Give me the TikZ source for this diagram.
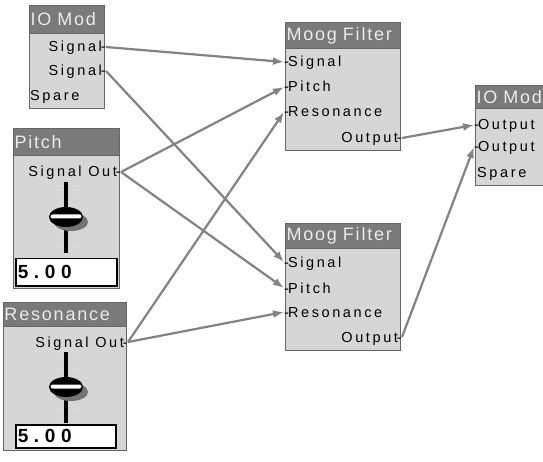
\documentclass[tikz,border=0pt]{standalone}
\usepackage{fontspec}
\setmainfont{Liberation Sans}
\newfontfamily\portfont[LetterSpace=18]{Liberation Sans}
\newfontfamily\titlefont[LetterSpace=10]{Liberation Sans}
\newfontfamily\valuefont[LetterSpace=30]{Liberation Sans}
\usetikzlibrary{arrows.meta}

\definecolor{barcol}{RGB}{122,122,122}
\definecolor{bodycol}{RGB}{214,214,214}
\definecolor{wirecol}{RGB}{130,130,130}

\begin{document}
\begin{tikzpicture}[x=1pt, y=-1pt, >={Latex[length=11pt,width=8pt]}]

% module body style
\tikzstyle{body} = [
    draw=black!60,
    fill=bodycol,
    line width=1pt,
    anchor=north west,
    inner sep=0pt
]

% title bar style
\tikzstyle{bar} = [
    draw=black!60,
    fill=barcol,
    text=black!8,
    line width=1pt,
    anchor=north west,
    inner xsep=1pt,
    inner ysep=0pt,
    align=left,
    font=\titlefont\fontsize{18}{18}\selectfont
]

% port styles
\tikzstyle{inport} = [
    anchor=west,
    inner sep=0pt,
    text height=10pt,
    text depth=0pt,
    font=\portfont\fontsize{14.5}{14}\selectfont
]
\tikzstyle{outport} = [
    inport,
    anchor=east
]

% value box style
\tikzstyle{valbox} = [
    draw=black,
    fill=white,
    line width=1.5pt,
    anchor=north west,
    inner xsep=2pt,
    inner ysep=0pt,
    align=left,
    font=\valuefont\bfseries\fontsize{19}{19}\selectfont
]

% connector style
\tikzstyle{wire} = [
    ->,
    draw=wirecol,
    line width=2.2pt
]

\useasboundingbox (0,0) rectangle (543,462);
\clip (0,0) rectangle (543,462);

% Place the nodes.
\node[body, minimum width=75pt, minimum height=103pt] (ioin) at (29,5) {};
\node[bar, minimum width=75pt, minimum height=28pt, text width=73pt] (ioin-bar) at (29,5) {IO Mod};
\node[outport] (ioin-s1) at (106,47) {Signal\kern-1pt-};
\node[outport] (ioin-s2) at (106,71) {Signal\kern-1pt-};
\node[inport] (ioin-sp) at (30,96) {Spare};

\node[body, minimum width=106pt, minimum height=160pt] (pitch) at (13,128) {};
\node[bar, minimum width=106pt, minimum height=27pt, text width=104pt] (pitch-bar) at (13,128) {Pitch};
\node[outport] (pitch-out) at (121,172) {Signal Out\kern-1pt-};
\node[valbox, minimum width=101pt, minimum height=27pt, text width=97pt] (pitch-val) at (15,258) {5.00};

\node[body, minimum width=123pt, minimum height=148pt] (reso) at (3,302) {};
\node[bar, minimum width=123pt, minimum height=24pt, text width=121pt] (reso-bar) at (3,302) {Resonance};
\node[outport] (reso-out) at (128,342) {Signal Out\kern-1pt-};
\node[valbox, minimum width=100pt, minimum height=23pt, text width=96pt] (reso-val) at (15,424) {5.00};

\node[body, minimum width=115pt, minimum height=128pt] (moog1) at (285,22) {};
\node[bar, minimum width=115pt, minimum height=26pt, text width=113pt] (moog1-bar) at (285,22) {Moog Filter};
\node[inport] (moog1-sig) at (284,62) {-\kern-1pt Signal};
\node[inport] (moog1-pit) at (284,87) {-\kern-1pt Pitch};
\node[inport] (moog1-res) at (284,112) {-\kern-1pt Resonance};
\node[outport] (moog1-out) at (402,138) {Output\kern-1pt-};

\node[body, minimum width=115pt, minimum height=127pt] (moog2) at (285,223) {};
\node[bar, minimum width=115pt, minimum height=25pt, text width=113pt] (moog2-bar) at (285,223) {Moog Filter};
\node[inport] (moog2-sig) at (284,262) {-\kern-1pt Signal};
\node[inport] (moog2-pit) at (284,288) {-\kern-1pt Pitch};
\node[inport] (moog2-res) at (284,312) {-\kern-1pt Resonance};
\node[outport] (moog2-out) at (402,337) {Output\kern-1pt-};

\node[body, minimum width=90pt, minimum height=100pt] (ioout) at (475,85) {};
\node[bar, minimum width=90pt, minimum height=23pt, text width=88pt] (ioout-bar) at (475,85) {IO Mod};
\node[inport] (ioout-o1) at (474,125) {-\kern-1pt Output};
\node[inport] (ioout-o2) at (474,147) {-\kern-1pt Output};
\node[inport] (ioout-sp) at (477,173) {Spare};

% Draw the sliders.
\foreach \sx/\sy in {66/217, 66/387} {
    \foreach \ty in {-29,-19,-10,21,31}
        \draw[white!85!black, line width=1pt] (\sx-13,\sy+\ty) -- (\sx+13,\sy+\ty);
    \draw[black, line width=4pt] (\sx,\sy-35) -- (\sx,\sy+36);
    \fill[black!55] (\sx+5,\sy+5) ellipse [x radius=17pt, y radius=9pt];
    \fill[black] (\sx,\sy) ellipse [x radius=17pt, y radius=10pt];
    \draw[black, fill=white, line width=1pt, rounded corners=2pt] (\sx-16,\sy-3) rectangle (\sx+16,\sy+2);
}

% Connect the nodes.
\draw[wire] (ioin-s1.east) -- (moog1-sig.west);
\draw[wire] (ioin-s2.east) -- (moog2-sig.west);
\draw[wire] (pitch-out.east) -- (moog1-pit.west);
\draw[wire] (pitch-out.east) -- (moog2-pit.west);
\draw[wire] (reso-out.east) -- (moog1-res.west);
\draw[wire] (reso-out.east) -- (moog2-res.west);
\draw[wire] (moog1-out.east) -- (ioout-o1.west);
\draw[wire] (moog2-out.east) -- (ioout-o2.west);

\end{tikzpicture}
\end{document}
